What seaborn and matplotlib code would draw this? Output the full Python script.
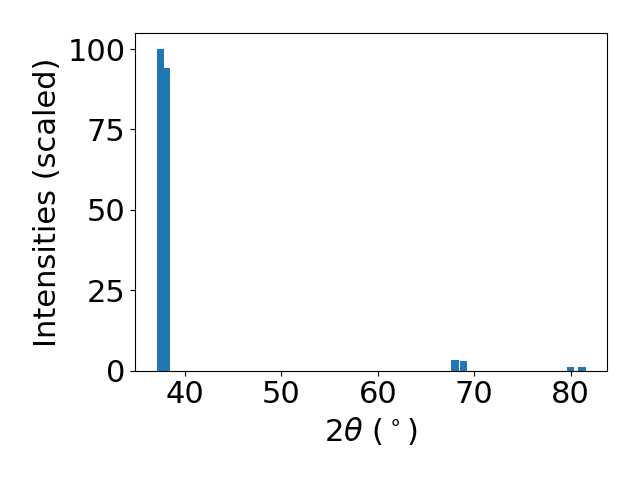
import numpy as np
import pandas as pd
import matplotlib
matplotlib.use("Agg")
import matplotlib.pyplot as plt
import seaborn as sns

# peak positions (2 theta, degrees) and scaled intensities
two_theta = [37.45, 38.05, 68.0, 68.9, 79.97, 81.17]
intensity = [100.0, 94.2, 3.35, 3.0, 1.15, 1.15]

plt.rcParams['font.size'] = 22

df = pd.DataFrame({'two_theta': two_theta, 'intensity': intensity})

fig, ax = plt.subplots(figsize=(6.4, 4.8), dpi=100)
# native_scale width is relative to the smallest gap between peaks
min_gap = np.min(np.diff(sorted(two_theta)))
sns.barplot(data=df, x='two_theta', y='intensity', native_scale=True,
            width=0.75 / min_gap, color='#1f77b4', saturation=1,
            errorbar=None, linewidth=0, ax=ax)
ax.set_xlabel(r"$2\theta$ ($^\circ$)")
ax.set_ylabel("Intensities (scaled)")
ax.set_yticks([0, 25, 50, 75, 100])
ax.set_xticks([40, 50, 60, 70, 80])
plt.tight_layout()
plt.savefig("out.png", dpi=100)
